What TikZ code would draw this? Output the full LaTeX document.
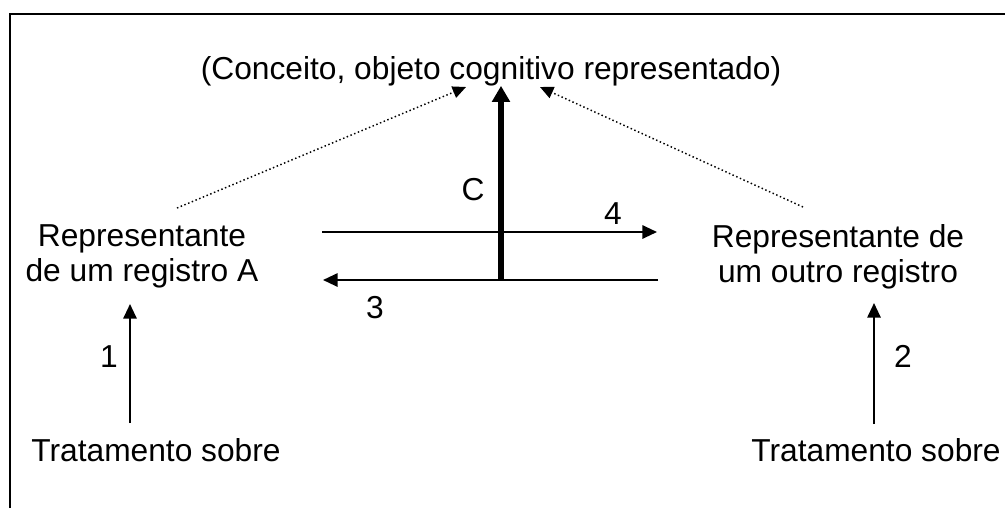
\documentclass[tikz,border=0pt]{standalone}
\usepackage{fontspec}
\setmainfont{Liberation Sans}
\usetikzlibrary{arrows.meta}

\begin{document}
\begin{tikzpicture}[x=0.75pt, y=-0.75pt,
    txt/.style={font=\fontsize{23.8pt}{26.3pt}\selectfont, inner sep=0pt, align=center},
    flow/.style={-{Triangle[length=11pt, width=10pt]}, line width=1.5pt},
    link/.style={-{Triangle[length=10pt, width=9pt]}, line width=1.1pt,
                 dash pattern=on 1.1pt off 1.9pt}]
  \useasboundingbox (0,0) rectangle (1005,508);
  % frame (left and top edges in view)
  \draw[line width=1.5pt] (10,508) -- (10,14) -- (1005,14);
  % concept at top
  \node[txt, anchor=base] (obj) at (491,79) {(Conceito, objeto cognitivo representado)};
  % the two representations
  \node[txt] (repA) at (142,256.5) {Representante\\de um registro A};
  \node[txt] (repB) at (838,256.5) {Representante de\\um outro registro};
  % treatments at bottom
  \node[txt, anchor=base] (tratA) at (156,461) {Tratamento sobre};
  \node[txt, anchor=base] (tratB) at (876,461) {Tratamento sobre};
  % free ends of the connectors
  \coordinate (a4s) at (322,232);  \coordinate (a4e) at (657,232);
  \coordinate (a3s) at (658,280);  \coordinate (a3e) at (323,280);
  \coordinate (cbase) at (501,280);
  \coordinate (dAs) at (177,208);  \coordinate (dAe) at (466,87);
  \coordinate (dBs) at (803,207);  \coordinate (dBe) at (540,87);
  \coordinate (a1s) at (130,423);  \coordinate (a1e) at (130,304);
  \coordinate (a2s) at (874,424);  \coordinate (a2e) at (874,303);
  % conversions between registers
  \draw[flow] (a4s) -- (a4e);
  \draw[flow] (a3s) -- (a3e);
  \draw[line width=4.5pt, -{Triangle[length=12pt, width=13pt]}]
       (cbase) -- (cbase |- obj.south);
  % dotted links to the concept
  \draw[link] (dAs) -- (dAe);
  \draw[link] (dBs) -- (dBe);
  % treatments
  \draw[flow] (a1s) -- (a1e);
  \draw[flow] (a2s) -- (a2e);
  % labels
  \node[txt, anchor=base] (lc) at (473,200) {C};
  \node[txt, anchor=base] (l4) at (613,224) {4};
  \node[txt, anchor=base] (l3) at (375,318) {3};
  \node[txt, anchor=base] (l1) at (109,367) {1};
  \node[txt, anchor=base] (l2) at (903,367) {2};
\end{tikzpicture}
\end{document}
